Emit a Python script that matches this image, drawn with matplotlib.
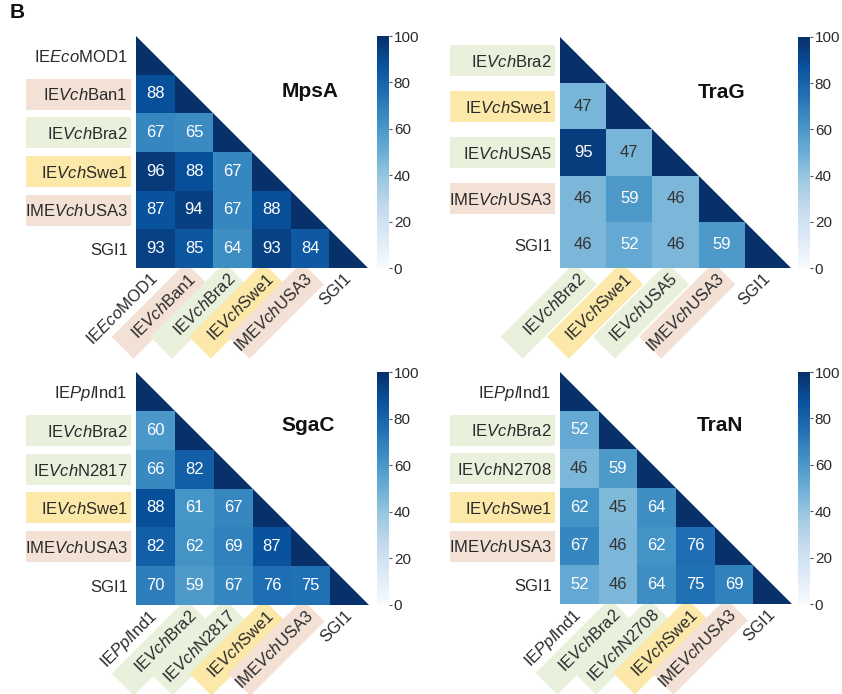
"""
Pairwise identity heatmaps (lower triangle) for four proteins,
each with its own colour bar and coloured label backgrounds.
"""

import numpy as np
import matplotlib
matplotlib.use("Agg")
import matplotlib.pyplot as plt
from matplotlib.patches import Rectangle, Polygon
from matplotlib.transforms import Affine2D, ScaledTranslation
from matplotlib.colors import Normalize
from matplotlib.cm import ScalarMappable

plt.rcParams['font.family'] = 'Liberation Sans'
plt.rcParams['mathtext.fontset'] = 'custom'
plt.rcParams['mathtext.rm'] = 'Liberation Sans'
plt.rcParams['mathtext.it'] = 'Liberation Sans:italic'

# --- Label background colours ---
PINK = '#f3e1d6'
GREEN = '#e9f0dc'
YELLOW = '#fce9aa'

# --- Data (lower triangle, row by row, diagonal = 100) ---
mpsa_labels = ['IE$\\mathit{Eco}$MOD1', 'IE$\\mathit{Vch}$Ban1', 'IE$\\mathit{Vch}$Bra2',
               'IE$\\mathit{Vch}$Swe1', 'IME$\\mathit{Vch}$USA3', 'SGI1']
mpsa_colors = [None, PINK, GREEN, YELLOW, PINK, None]
mpsa_values = [[88],
               [67, 65],
               [96, 88, 67],
               [87, 94, 67, 88],
               [93, 85, 64, 93, 84]]

trag_labels = ['IE$\\mathit{Vch}$Bra2', 'IE$\\mathit{Vch}$Swe1', 'IE$\\mathit{Vch}$USA5',
               'IME$\\mathit{Vch}$USA3', 'SGI1']
trag_colors = [GREEN, YELLOW, GREEN, PINK, None]
trag_values = [[47],
               [95, 47],
               [46, 59, 46],
               [46, 52, 46, 59]]

sgac_labels = ['IE$\\mathit{Ppl}$Ind1', 'IE$\\mathit{Vch}$Bra2', 'IE$\\mathit{Vch}$N2817',
               'IE$\\mathit{Vch}$Swe1', 'IME$\\mathit{Vch}$USA3', 'SGI1']
sgac_colors = [None, GREEN, GREEN, YELLOW, PINK, None]
sgac_values = [[60],
               [66, 82],
               [88, 61, 67],
               [82, 62, 69, 87],
               [70, 59, 67, 76, 75]]

tran_labels = ['IE$\\mathit{Ppl}$Ind1', 'IE$\\mathit{Vch}$Bra2', 'IE$\\mathit{Vch}$N2708',
               'IE$\\mathit{Vch}$Swe1', 'IME$\\mathit{Vch}$USA3', 'SGI1']
tran_colors = [None, GREEN, GREEN, YELLOW, PINK, None]
tran_values = [[52],
               [46, 59],
               [62, 45, 64],
               [67, 46, 62, 76],
               [52, 46, 64, 75, 69]]

DIAG_VALUE = 100

W, H = 842, 694
DPI = 100
cmap = plt.get_cmap('Blues')
norm = Normalize(vmin=0, vmax=100)

TEXT_COLOR = '#2a2a2a'
BOX_W = 1.05   # inches
BOX_H = 0.31   # inches
PAD_PT = 6


def px_axes(fig, left, top, w, h):
    """Add an axes given in pixel coordinates measured from the top-left."""
    return fig.add_axes([left / W, 1 - (top + h) / H, w / W, h / H])


def draw_panel(fig, ax, cax, labels, colors, lower, title, title_xy):
    n = len(labels)
    mat = np.full((n, n), np.nan)
    for i, row in enumerate(lower, start=1):
        mat[i, :len(row)] = row

    ax.pcolormesh(np.arange(n + 1), np.arange(n + 1), np.ma.masked_invalid(mat),
                  cmap=cmap, norm=norm, linewidth=0)
    # diagonal cells drawn as lower-left triangles
    for k in range(n):
        ax.add_patch(Polygon([(k, k), (k, k + 1), (k + 1, k + 1)], closed=True,
                             facecolor=cmap(norm(DIAG_VALUE)), edgecolor='none'))

    for i in range(n):
        for j in range(i):
            v = mat[i, j]
            ax.text(j + 0.5, i + 0.5, f"{v:.0f}", ha='center', va='center',
                    fontsize=12, color='white' if v >= 50 else '#333333')

    ax.set_xlim(0, n)
    ax.set_ylim(n, 0)
    for s in ax.spines.values():
        s.set_visible(False)

    ticks = np.arange(n) + 0.5
    ax.set_xticks(ticks)
    ax.set_yticks(ticks)
    ax.set_xticklabels(labels, rotation=45, ha='right', va='center',
                       rotation_mode='anchor', fontsize=12, color=TEXT_COLOR)
    ax.set_yticklabels(labels, fontsize=12, color=TEXT_COLOR)
    ax.tick_params(length=0, pad=PAD_PT)

    pad_in = PAD_PT / 72
    for k, c in enumerate(colors):
        if c is None:
            continue
        # y label background
        tr_y = fig.dpi_scale_trans + ScaledTranslation(0, k + 0.5, ax.get_yaxis_transform())
        ax.add_patch(Rectangle((-BOX_W - 0.055, -BOX_H / 2), BOX_W, BOX_H,
                               facecolor=c, edgecolor='none', transform=tr_y,
                               clip_on=False, zorder=0))
        # x label background (rotated)
        tr_x = (Affine2D().rotate_deg(45).translate(0, -pad_in)
                + fig.dpi_scale_trans
                + ScaledTranslation(k + 0.5, n, ax.transData))
        ax.add_patch(Rectangle((-BOX_W + 0.04, -BOX_H / 2), BOX_W, BOX_H,
                               facecolor=c, edgecolor='none', transform=tr_x,
                               clip_on=False, zorder=0))

    ax.text(title_xy[0], title_xy[1], title, transform=ax.transAxes,
            ha='center', va='center', fontsize=15, fontweight='bold', color='#111111')

    cb = fig.colorbar(ScalarMappable(norm=norm, cmap=cmap), cax=cax,
                      ticks=range(0, 101, 20))
    cb.outline.set_visible(False)
    cax.tick_params(length=2.5, width=0.8, color='#555555', labelsize=11,
                    labelcolor=TEXT_COLOR, pad=1)


def main():
    fig = plt.figure(figsize=(W / DPI, H / DPI), dpi=DPI)

    panels = [
        (mpsa_labels, mpsa_colors, mpsa_values, 'MpsA', (136, 36, 232), 377, (0.75, 0.76)),
        (trag_labels, trag_colors, trag_values, 'TraG', (560, 37, 231), 798, (0.70, 0.76)),
        (sgac_labels, sgac_colors, sgac_values, 'SgaC', (136, 372, 233), 377, (0.74, 0.77)),
        (tran_labels, tran_colors, tran_values, 'TraN', (560, 372, 232), 798, (0.69, 0.77)),
    ]
    for labels, colors, values, title, (left, top, size), cb_x, txy in panels:
        ax = px_axes(fig, left, top, size, size)
        cax = px_axes(fig, cb_x, top, 12, size)
        draw_panel(fig, ax, cax, labels, colors, values, title, txy)

    fig.text(10 / W, 1 - 3 / H, 'B', ha='left', va='top', fontsize=15,
             fontweight='bold', color='#111111')

    fig.savefig('out.png', dpi=DPI)
    plt.close(fig)


if __name__ == '__main__':
    main()
